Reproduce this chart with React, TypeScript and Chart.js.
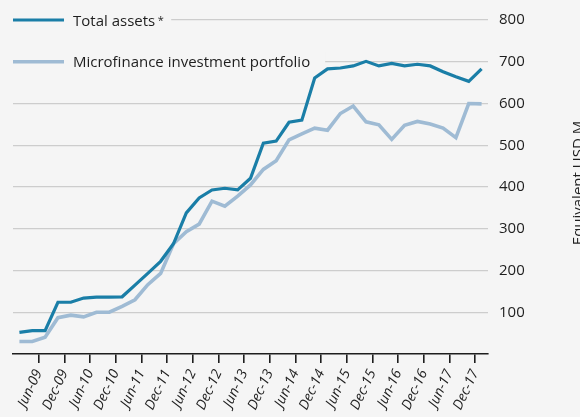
import React, { useEffect, useRef } from 'react';
import { Chart, registerables } from 'chart.js';

Chart.register(...registerables);

// Quarterly observations, Dec-08 .. Dec-17
const quarters = [
  'Dec-08', 'Mar-09', 'Jun-09', 'Sep-09', 'Dec-09', 'Mar-10', 'Jun-10', 'Sep-10', 'Dec-10',
  'Mar-11', 'Jun-11', 'Sep-11', 'Dec-11', 'Mar-12', 'Jun-12', 'Sep-12', 'Dec-12',
  'Mar-13', 'Jun-13', 'Sep-13', 'Dec-13', 'Mar-14', 'Jun-14', 'Sep-14', 'Dec-14',
  'Mar-15', 'Jun-15', 'Sep-15', 'Dec-15', 'Mar-16', 'Jun-16', 'Sep-16', 'Dec-16',
  'Mar-17', 'Jun-17', 'Sep-17', 'Dec-17',
];

const totalAssets = [
  52, 56, 56, 124, 124, 134, 136, 136, 137,
  165, 193, 222, 264, 338, 374, 393, 397,
  393, 421, 505, 510, 555, 560, 661, 683,
  685, 690, 701, 690, 696, 690, 694, 690,
  676, 664, 653, 683,
];

const microfinancePortfolio = [
  30, 30, 40, 87, 93, 89, 100, 100, 114,
  130, 166, 193, 264, 293, 311, 366, 354,
  378, 405, 442, 463, 513, 527, 541, 536,
  576, 594, 556, 549, 514, 548, 557, 551,
  541, 518, 600, 599,
];

const xTickLabels = [
  'Jun-09', 'Dec-09', 'Jun-10', 'Dec-10', 'Jun-11', 'Dec-11', 'Jun-12', 'Dec-12',
  'Jun-13', 'Dec-13', 'Jun-14', 'Dec-14', 'Jun-15', 'Dec-15', 'Jun-16', 'Dec-16',
  'Jun-17', 'Dec-17',
];

const yTicks = [100, 200, 300, 400, 500, 600, 700, 800];

const seriesNames = ['Total assets', 'Microfinance investment portfolio'];
const yTitle = 'Equivalent USD M';

const BG = '#f5f5f5';
const DARK = '#1a7ea7';
const LIGHT = '#9fbbd4';
const TEXT = '#1e1e1e';
const FONT = '"Open Sans", "DejaVu Sans", sans-serif';

export default function App() {
  const ref = useRef<HTMLCanvasElement | null>(null);

  useEffect(() => {
    document.body.style.margin = '0';
    document.body.style.background = BG;
    const canvas = ref.current;
    if (!canvas) return;

    const tickPos = (label: string) => quarters.indexOf(label) - 0.5;

    const bgPlugin = {
      id: 'bg',
      beforeDraw(chart: any) {
        const ctx = chart.ctx;
        ctx.save();
        ctx.fillStyle = BG;
        ctx.fillRect(0, 0, chart.width, chart.height);
        ctx.restore();
      },
    };

    const legendPlugin = {
      id: 'customLegend',
      beforeDatasetsDraw(chart: any) {
        const ctx = chart.ctx;
        const area = chart.chartArea;
        const ys = chart.scales.y;
        const rows = [
          { y: ys.getPixelForValue(800), color: DARK, width: 3.2, text: seriesNames[0], star: true },
          { y: ys.getPixelForValue(700), color: LIGHT, width: 3.6, text: seriesNames[1], star: false },
        ];
        ctx.save();
        rows.forEach((r, idx) => {
          ctx.font = `15px ${FONT}`;
          const textX = 73;
          const w = ctx.measureText(r.text).width;
          let end = textX + w;
          if (r.star) end += 7;
          const cover = end + (idx === 0 ? 9 : 15);
          ctx.fillStyle = BG;
          ctx.fillRect(0, r.y - 10, cover, 20);
          ctx.strokeStyle = r.color;
          ctx.lineWidth = r.width;
          ctx.lineCap = 'butt';
          ctx.beginPath();
          ctx.moveTo(area.left, r.y);
          ctx.lineTo(area.left + 51, r.y);
          ctx.stroke();
          ctx.fillStyle = TEXT;
          ctx.textAlign = 'left';
          ctx.textBaseline = 'alphabetic';
          ctx.fillText(r.text, textX, r.y + 5.5);
          if (r.star) {
            ctx.font = `11px ${FONT}`;
            ctx.fillText('*', textX + w + 2.5, r.y + 4);
          }
        });
        ctx.restore();
      },
    };

    const titlePlugin = {
      id: 'yTitle',
      afterDraw(chart: any) {
        const ctx = chart.ctx;
        const area = chart.chartArea;
        ctx.save();
        ctx.translate(571, (area.top + area.bottom) / 2 - 4);
        ctx.rotate(-Math.PI / 2);
        ctx.font = `15px ${FONT}`;
        ctx.fillStyle = TEXT;
        ctx.textAlign = 'center';
        ctx.textBaseline = 'top';
        ctx.fillText(yTitle, 0, 0);
        ctx.restore();
      },
    };

    const chart = new Chart(canvas, {
      type: 'line',
      data: {
        datasets: [
          {
            label: seriesNames[0],
            data: totalAssets.map((v, i) => ({ x: i, y: v })),
            borderColor: DARK,
            borderWidth: 3.2,
            pointRadius: 0,
            tension: 0,
            fill: false,
          },
          {
            label: seriesNames[1],
            data: microfinancePortfolio.map((v, i) => ({ x: i, y: v })),
            borderColor: LIGHT,
            borderWidth: 3.6,
            pointRadius: 0,
            tension: 0,
            fill: false,
          },
        ],
      },
      options: {
        animation: false,
        responsive: false,
        maintainAspectRatio: false,
        layout: { padding: { left: 13, top: 14, right: 0, bottom: 0 } },
        plugins: {
          legend: { display: false },
          tooltip: { enabled: false },
          title: { display: false },
        },
        scales: {
          x: {
            type: 'linear',
            min: -0.5,
            max: quarters.length - 0.5,
            afterBuildTicks(scale: any) {
              scale.ticks = xTickLabels.map((l) => ({ value: tickPos(l) }));
            },
            afterFit(scale: any) {
              scale.height = 63;
            },
            grid: {
              drawOnChartArea: false,
              drawTicks: true,
              tickLength: 9,
              color: TEXT,
              lineWidth: 1.6,
            },
            border: { display: true, color: TEXT, width: 1.6 },
            ticks: {
              autoSkip: false,
              minRotation: 65,
              maxRotation: 65,
              padding: 4,
              color: TEXT,
              font: { family: FONT, size: 14, style: 'italic' },
              callback: (value: any) => {
                const l = xTickLabels.find((t) => Math.abs(tickPos(t) - value) < 0.01);
                return l || '';
              },
            },
          },
          y: {
            type: 'linear',
            position: 'right',
            min: 0,
            max: 800,
            afterBuildTicks(scale: any) {
              scale.ticks = yTicks.map((v) => ({ value: v }));
            },
            afterFit(scale: any) {
              scale.width = 92;
            },
            grid: {
              drawTicks: false,
              color: '#cdcdcd',
              lineWidth: 1.2,
            },
            border: { display: false },
            ticks: {
              padding: 11,
              color: TEXT,
              font: { family: FONT, size: 15 },
            },
          },
        },
      },
      plugins: [bgPlugin, legendPlugin, titlePlugin],
    } as any);

    return () => chart.destroy();
  }, []);

  return (
    <div style={{ width: 580, height: 417, background: BG }}>
      <canvas ref={ref} width={580} height={417} style={{ display: 'block', width: 580, height: 417 }} />
    </div>
  );
}
